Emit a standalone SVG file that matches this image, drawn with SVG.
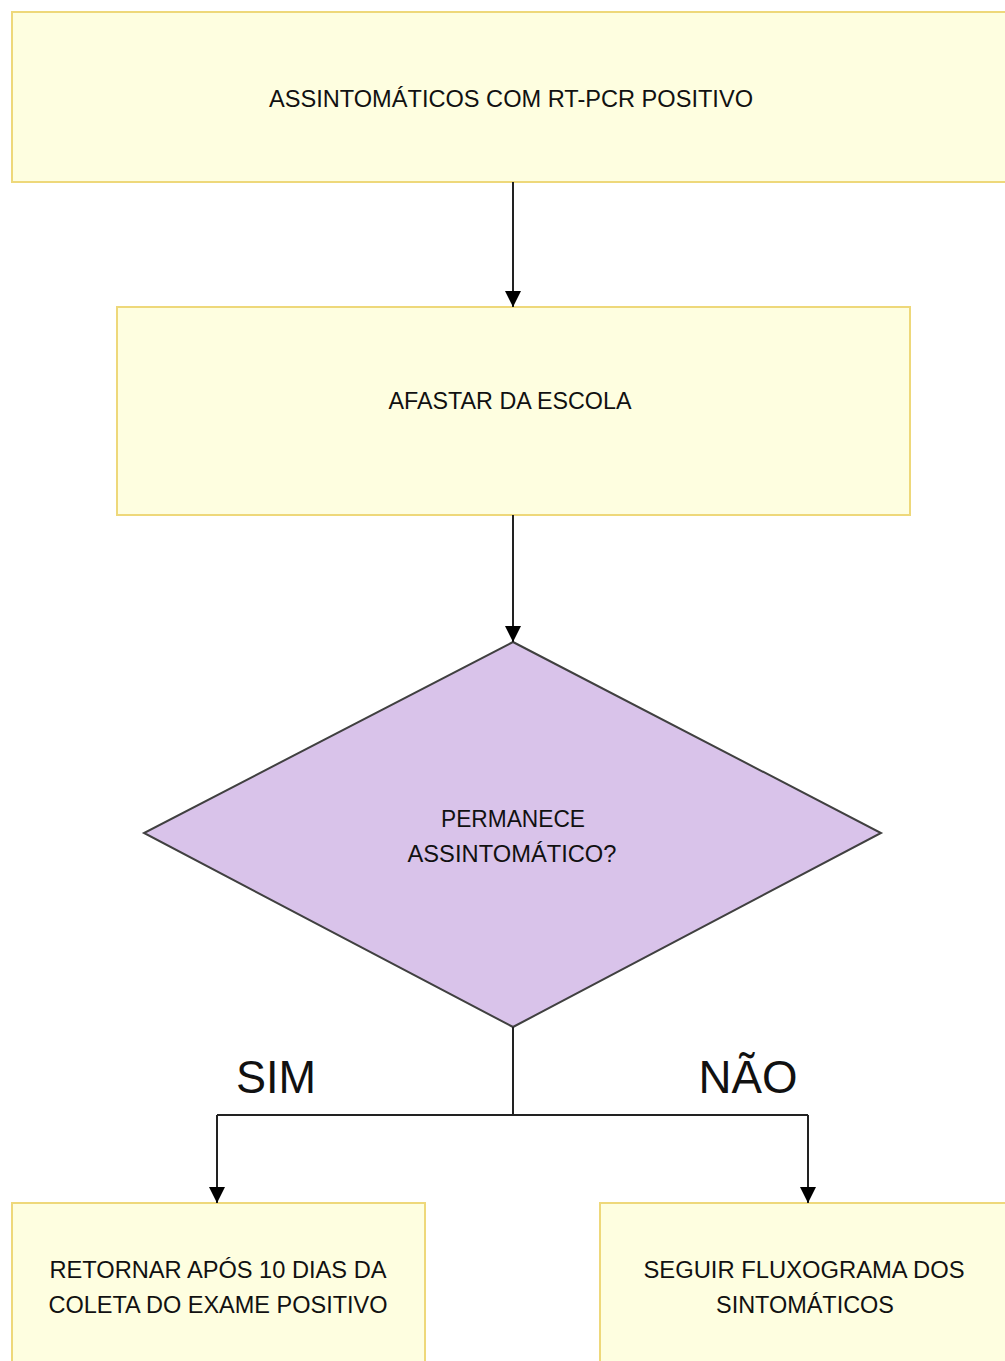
<svg xmlns="http://www.w3.org/2000/svg" width="1005" height="1361" viewBox="0 0 1005 1361">
<defs>
<marker id="arr" viewBox="0 0 10 10" refX="10" refY="5" markerWidth="16" markerHeight="16" markerUnits="userSpaceOnUse" orient="auto">
<path d="M0,0 L10,5 L0,10 z" fill="#000"/>
</marker>
</defs>
<style>
.box{fill:#FEFEE0;stroke:#EED87A;stroke-width:2}
.dia{fill:#D9C3EA;stroke:#404040;stroke-width:2}
.t{font-family:"Liberation Sans",Arial,sans-serif;font-size:23px;fill:#111;text-anchor:middle}
.big{font-family:"Liberation Sans",Arial,sans-serif;font-size:46px;fill:#111;text-anchor:middle}
.c{fill:none;stroke:#222;stroke-width:2}
</style>
<rect width="1005" height="1361" fill="#fff"/>
<g id="n1"><rect class="box" x="12" y="12" width="1000" height="170"/>
<text class="t" x="511" y="107" textLength="484" lengthAdjust="spacingAndGlyphs">ASSINTOMÁTICOS COM RT-PCR POSITIVO</text></g>
<g id="n2"><rect class="box" x="117" y="307" width="793" height="208"/>
<text class="t" x="510" y="409" textLength="243" lengthAdjust="spacingAndGlyphs">AFASTAR DA ESCOLA</text></g>
<g id="n3"><polygon class="dia" points="513,642 881,833 513,1027 144,833"/>
<text class="t" x="513" y="827" textLength="144" lengthAdjust="spacingAndGlyphs">PERMANECE</text>
<text class="t" x="512" y="862" textLength="209" lengthAdjust="spacingAndGlyphs">ASSINTOMÁTICO?</text></g>
<g id="n4"><rect class="box" x="12" y="1203" width="413" height="170"/>
<text class="t" x="218" y="1278" textLength="337" lengthAdjust="spacingAndGlyphs">RETORNAR APÓS 10 DIAS DA</text>
<text class="t" x="218" y="1313" textLength="339" lengthAdjust="spacingAndGlyphs">COLETA DO EXAME POSITIVO</text></g>
<g id="n5"><rect class="box" x="600" y="1203" width="420" height="170"/>
<text class="t" x="804" y="1278" textLength="321" lengthAdjust="spacingAndGlyphs">SEGUIR FLUXOGRAMA DOS</text>
<text class="t" x="805" y="1313" textLength="178" lengthAdjust="spacingAndGlyphs">SINTOMÁTICOS</text></g>
<g id="connectors">
<line class="c" x1="513" y1="182" x2="513" y2="307" marker-end="url(#arr)"/>
<line class="c" x1="513" y1="515" x2="513" y2="642" marker-end="url(#arr)"/>
<line class="c" x1="513" y1="1027" x2="513" y2="1115"/>
<line class="c" x1="217" y1="1115" x2="808" y2="1115"/>
<line class="c" x1="217" y1="1115" x2="217" y2="1203" marker-end="url(#arr)"/>
<line class="c" x1="808" y1="1115" x2="808" y2="1203" marker-end="url(#arr)"/>
<text class="big" x="276" y="1093" textLength="80" lengthAdjust="spacingAndGlyphs">SIM</text>
<text class="big" x="748" y="1093" textLength="99" lengthAdjust="spacingAndGlyphs">NÃO</text>
</g>
</svg>
